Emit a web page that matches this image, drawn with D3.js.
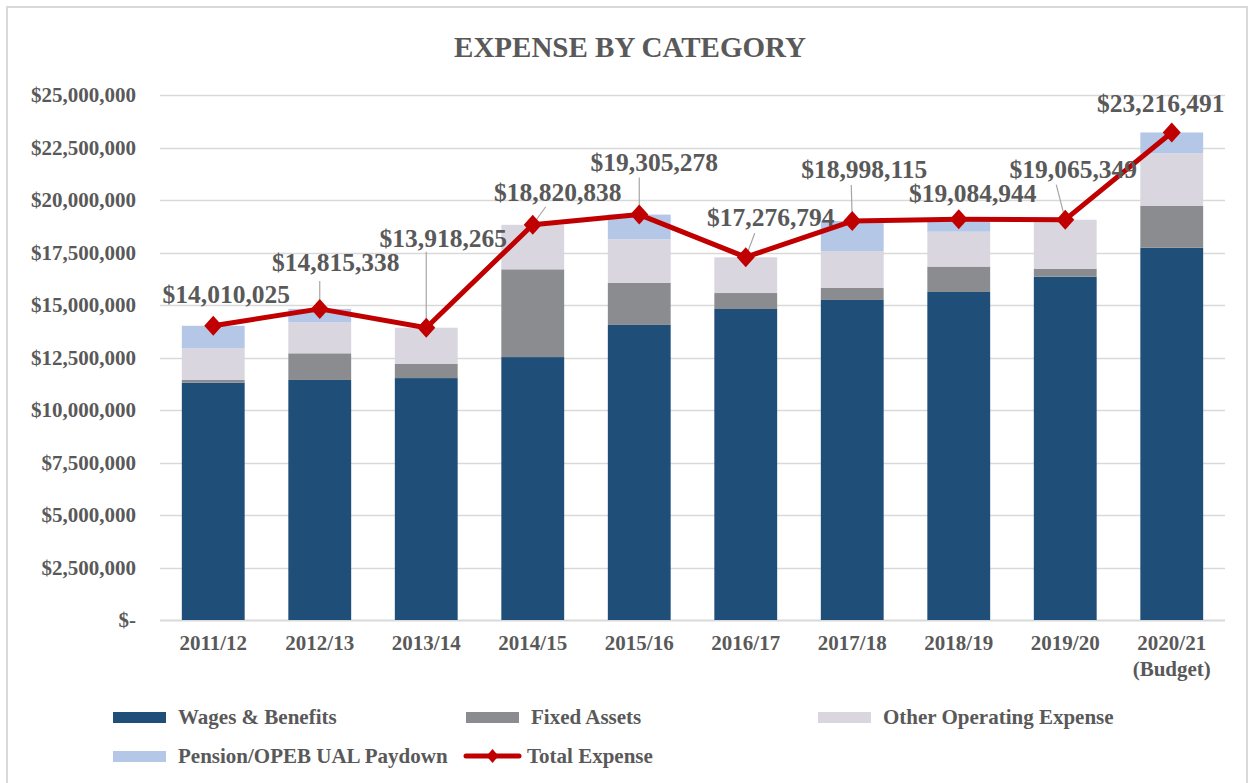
<!DOCTYPE html>
<html>
<head>
<meta charset="utf-8">
<script src="https://cdn.jsdelivr.net/npm/d3@7"></script>
<style>
  html, body { margin: 0; padding: 0; background: #ffffff; }
</style>
</head>
<body>
<div id="chart"></div>
<script>
const years = ['2011/12', '2012/13', '2013/14', '2014/15', '2015/16', '2016/17', '2017/18', '2018/19', '2019/20', '2020/21']
const yearNotes = ['', '', '', '', '', '', '', '', '', '(Budget)']

const wages = [11300000, 11430000, 11520000, 12520000, 14050000, 14810000, 15240000, 15620000, 16350000, 17730000]
const fixedAssets = [130000, 1270000, 670000, 4180000, 2010000, 760000, 570000, 1210000, 380000, 2000000]
const otherOperating = [1510000, 1480000, 1730000, 2120000, 2070000, 1700000, 1760000, 1660000, 2330000, 2490000]
const pension = [1070000, 635000, 0, 0, 1175000, 0, 1428000, 595000, 0, 996000]
const totals = [14010025, 14815338, 13918265, 18820838, 19305278, 17276794, 18998115, 19084944, 19065349, 23216491]

const yTicks = [0, 2500000, 5000000, 7500000, 10000000, 12500000, 15000000, 17500000, 20000000, 22500000, 25000000]

const seriesNames = ['Wages & Benefits', 'Fixed Assets', 'Other Operating Expense', 'Pension/OPEB UAL Paydown']
const seriesColors = ['#1f4e79', '#8b8c90', '#d9d6e0', '#b4c7e7']

// label placement relative to each total point: [dx, dy], leader start or null
const labelOffsets = [[13, -23], [16, -38], [17, -81], [25, -24], [15, -44], [25, -31], [12, -43], [14, -17], [8, -42], [-11, -20]]
const leaderStarts = [null, [0, -28], [0, -76], [13, -18], [0, -37], [9, -24], [-1, -36], null, [-9, -35], null]

const W = 1256
const H = 783
const FONT = 'Liberation Serif, Times New Roman, serif'
const TEXT = '#595959'
const RED = '#c00000'

const svg = d3.select('#chart').append('svg').attr('width', W).attr('height', H)

svg
  .append('rect')
  .attr('x', 0)
  .attr('y', 0)
  .attr('width', W)
  .attr('height', H)
  .attr('fill', '#ffffff')

svg
  .append('rect')
  .attr('x', 7)
  .attr('y', 7)
  .attr('width', 1240)
  .attr('height', 800)
  .attr('fill', 'none')
  .attr('stroke', '#d9d9d9')
  .attr('stroke-width', 2)

svg
  .append('text')
  .attr('x', 630)
  .attr('y', 57)
  .attr('text-anchor', 'middle')
  .attr('fill', TEXT)
  .attr('font-family', FONT)
  .attr('font-size', 29)
  .attr('font-weight', 'bold')
  .text('EXPENSE BY CATEGORY')

const x = d3.scaleBand().domain(years).range([160, 1225]).paddingInner(0.41).paddingOuter(0.205)
const y = d3.scaleLinear().domain([0, 25000000]).range([620, 95])

// gridlines
svg
  .append('g')
  .selectAll('line')
  .data(yTicks)
  .join('line')
  .attr('x1', 160)
  .attr('x2', 1225)
  .attr('y1', (d) => Math.round(y(d)) + 0.5)
  .attr('y2', (d) => Math.round(y(d)) + 0.5)
  .attr('stroke', '#d9d9d9')
  .attr('stroke-width', (d) => (d === 0 ? 2 : 1.5))

const fmt = d3.format(',')
const dollar = (d) => (d === 0 ? '$-' : '$' + fmt(d))

svg
  .append('g')
  .selectAll('text')
  .data(yTicks)
  .join('text')
  .attr('x', 136)
  .attr('y', (d) => y(d) + 7)
  .attr('text-anchor', 'end')
  .attr('fill', TEXT)
  .attr('font-family', FONT)
  .attr('font-size', 21)
  .attr('font-weight', 'bold')
  .text(dollar)

// x labels
const xLabels = svg
  .append('g')
  .selectAll('text')
  .data(years)
  .join('text')
  .attr('x', (d) => x(d) + x.bandwidth() / 2)
  .attr('y', 650)
  .attr('text-anchor', 'middle')
  .attr('fill', TEXT)
  .attr('font-family', FONT)
  .attr('font-size', 21)
  .attr('font-weight', 'bold')

xLabels.append('tspan').text((d) => d)
xLabels
  .append('tspan')
  .attr('x', (d) => x(d) + x.bandwidth() / 2)
  .attr('dy', 26)
  .text((d, i) => yearNotes[i])

// stacked bars
const rows = years.map((yr, i) => ({
  year: yr,
  s0: wages[i],
  s1: fixedAssets[i],
  s2: otherOperating[i],
  s3: pension[i],
}))
const stack = d3.stack().keys(['s0', 's1', 's2', 's3'])(rows)

svg
  .append('g')
  .selectAll('g')
  .data(stack)
  .join('g')
  .attr('fill', (d, i) => seriesColors[i])
  .selectAll('rect')
  .data((d) => d)
  .join('rect')
  .attr('x', (d) => x(d.data.year))
  .attr('y', (d) => y(d[1]))
  .attr('width', x.bandwidth())
  .attr('height', (d) => y(d[0]) - y(d[1]))

// leader lines
const px = (i) => x(years[i]) + x.bandwidth() / 2
const py = (i) => y(totals[i])

svg
  .append('g')
  .selectAll('line')
  .data(leaderStarts.map((s, i) => ({ s, i })).filter((d) => d.s))
  .join('line')
  .attr('x1', (d) => px(d.i) + d.s[0])
  .attr('y1', (d) => py(d.i) + d.s[1])
  .attr('x2', (d) => px(d.i))
  .attr('y2', (d) => py(d.i))
  .attr('stroke', '#a6a6a6')
  .attr('stroke-width', 1.2)

// total line
const line = d3
  .line()
  .x((d, i) => px(i))
  .y((d) => y(d))

svg
  .append('path')
  .attr('d', line(totals))
  .attr('fill', 'none')
  .attr('stroke', RED)
  .attr('stroke-width', 5)
  .attr('stroke-linejoin', 'round')

const diamond = (cx, cy, hw, hh) => `M${cx},${cy - hh}L${cx + hw},${cy}L${cx},${cy + hh}L${cx - hw},${cy}Z`

svg
  .append('g')
  .selectAll('path')
  .data(totals)
  .join('path')
  .attr('d', (d, i) => diamond(px(i), py(i), 9, 10))
  .attr('fill', RED)

// data labels
svg
  .append('g')
  .selectAll('text')
  .data(totals)
  .join('text')
  .attr('x', (d, i) => px(i) + labelOffsets[i][0])
  .attr('y', (d, i) => py(i) + labelOffsets[i][1])
  .attr('text-anchor', 'middle')
  .attr('fill', TEXT)
  .attr('font-family', FONT)
  .attr('font-size', 25.5)
  .attr('font-weight', 'bold')
  .text((d) => '$' + fmt(d))

// legend
const legendItems = [
  { name: seriesNames[0], color: seriesColors[0], lx: 113, ly: 717 },
  { name: seriesNames[1], color: seriesColors[1], lx: 466, ly: 717 },
  { name: seriesNames[2], color: seriesColors[2], lx: 818, ly: 717 },
  { name: seriesNames[3], color: seriesColors[3], lx: 113, ly: 756 },
  { name: 'Total Expense', color: RED, lx: 466, ly: 756, isLine: true },
]

const legend = svg
  .append('g')
  .selectAll('g')
  .data(legendItems)
  .join('g')
  .attr('transform', (d) => `translate(${d.lx}, ${d.ly})`)

legend
  .filter((d) => !d.isLine)
  .append('rect')
  .attr('x', 0)
  .attr('y', -5)
  .attr('width', 53)
  .attr('height', 11)
  .attr('fill', (d) => d.color)

const lineItem = legend.filter((d) => d.isLine)
lineItem
  .append('line')
  .attr('x1', 0)
  .attr('x2', 53)
  .attr('y1', 0)
  .attr('y2', 0)
  .attr('stroke', RED)
  .attr('stroke-width', 5)
  .attr('stroke-linecap', 'round')
lineItem
  .append('path')
  .attr('d', diamond(26.5, 0, 6, 7))
  .attr('fill', RED)

legend
  .append('text')
  .attr('x', (d) => (d.isLine ? 61 : 65))
  .attr('y', 7)
  .attr('fill', TEXT)
  .attr('font-family', FONT)
  .attr('font-size', 21)
  .attr('font-weight', 'bold')
  .text((d) => d.name)
</script>
</body>
</html>
